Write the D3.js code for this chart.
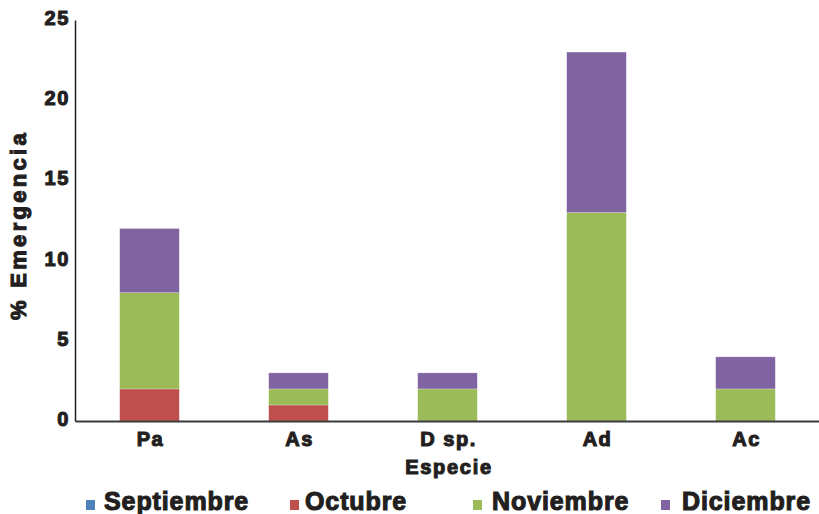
<!DOCTYPE html>
<html>
<head>
  <script src="https://d3js.org/d3.v7.min.js"></script>
  <style>
    body { margin: 0; background: #fff; }
    text {
      font-family: "Liberation Sans", Arial, sans-serif;
      font-weight: bold;
      fill: #231f20;
      stroke: #231f20;
      stroke-width: 1.1px;
    }
  </style>
</head>
<body>
<div id="chart"></div>
<script>
  // data
  var especies = ["Pa", "As", "D sp.", "Ad", "Ac"];
  var meses = ["Septiembre", "Octubre", "Noviembre", "Diciembre"];
  var septiembre = [0, 0, 0, 0, 0];
  var octubre = [2, 1, 0, 0, 0];
  var noviembre = [6, 1, 2, 13, 2];
  var diciembre = [4, 1, 1, 10, 2];
  var yTicks = [0, 5, 10, 15, 20, 25];

  var colores = ["#4f81bd", "#c0504d", "#9bbb59", "#8064a2"];

  var W = 819, H = 514;
  var plotLeft = 75, plotRight = 820, plotTop = 20, plotBottom = 421;

  var svg = d3.select("#chart").append("svg")
    .attr("width", W)
    .attr("height", H);

  var rows = especies.map(function (e, i) {
    return { especie: e, Septiembre: septiembre[i], Octubre: octubre[i], Noviembre: noviembre[i], Diciembre: diciembre[i] };
  });

  var stack = d3.stack().keys(meses)(rows);

  var x = d3.scaleBand()
    .domain(especies)
    .range([plotLeft, plotRight])
    .paddingInner(0.6)
    .paddingOuter(0.3);

  var y = d3.scaleLinear()
    .domain([0, 25])
    .range([plotBottom, plotTop]);

  var color = d3.scaleOrdinal().domain(meses).range(colores);

  // bars
  svg.append("g")
    .selectAll("g")
    .data(stack)
    .join("g")
    .attr("fill", function (d) { return color(d.key); })
    .selectAll("rect")
    .data(function (d) { return d; })
    .join("rect")
    .attr("x", function (d) { return x(d.data.especie); })
    .attr("y", function (d) { return y(d[1]); })
    .attr("width", x.bandwidth())
    .attr("height", function (d) { return y(d[0]) - y(d[1]); })
    .attr("stroke", "#fff")
    .attr("stroke-opacity", 0.4)
    .attr("stroke-width", 0.6);

  // y axis
  var yAxis = svg.append("g")
    .attr("transform", "translate(" + plotLeft + ",0)")
    .call(d3.axisLeft(y).tickValues(yTicks).tickSize(0).tickPadding(5));
  yAxis.select(".domain").attr("stroke", "#231f20").attr("stroke-width", 1.5);
  yAxis.selectAll("text")
    .attr("dy", "0.22em")
    .attr("fill", "#231f20")
    .style("font-size", "20px")
    .style("letter-spacing", "1.6px")
    .style("font-family", "'Liberation Sans', Arial, sans-serif");

  // x axis
  var xAxis = svg.append("g")
    .attr("transform", "translate(0," + plotBottom + ")")
    .call(d3.axisBottom(x).tickSize(0).tickPadding(11));
  xAxis.select(".domain").attr("stroke", "#3a3a3a").attr("stroke-width", 2.2);
  xAxis.selectAll("text")
    .attr("dx", "1px")
    .attr("fill", "#231f20")
    .style("font-size", "20px")
    .style("letter-spacing", "1.5px")
    .style("font-family", "'Liberation Sans', Arial, sans-serif");

  // axis titles
  svg.append("text")
    .attr("x", 449)
    .attr("y", 474)
    .attr("text-anchor", "middle")
    .style("font-size", "20px")
    .style("letter-spacing", "1.7px")
    .text("Especie");

  svg.append("text")
    .attr("transform", "translate(26,225) rotate(-90)")
    .attr("text-anchor", "middle")
    .style("font-size", "22px")
    .style("letter-spacing", "3.3px")
    .text("% Emergencia");

  // legend
  var legX = [86, 290, 473, 661];
  var legGap = [18, 15, 19, 21];
  var legend = svg.append("g");
  meses.forEach(function (m, i) {
    legend.append("rect")
      .attr("x", legX[i])
      .attr("y", 500)
      .attr("width", 9)
      .attr("height", 10)
      .attr("fill", color(m));
    legend.append("text")
      .attr("x", legX[i] + legGap[i])
      .attr("y", 510)
      .style("font-size", "25px")
      .style("letter-spacing", "0.9px")
      .text(m);
  });
</script>
</body>
</html>
